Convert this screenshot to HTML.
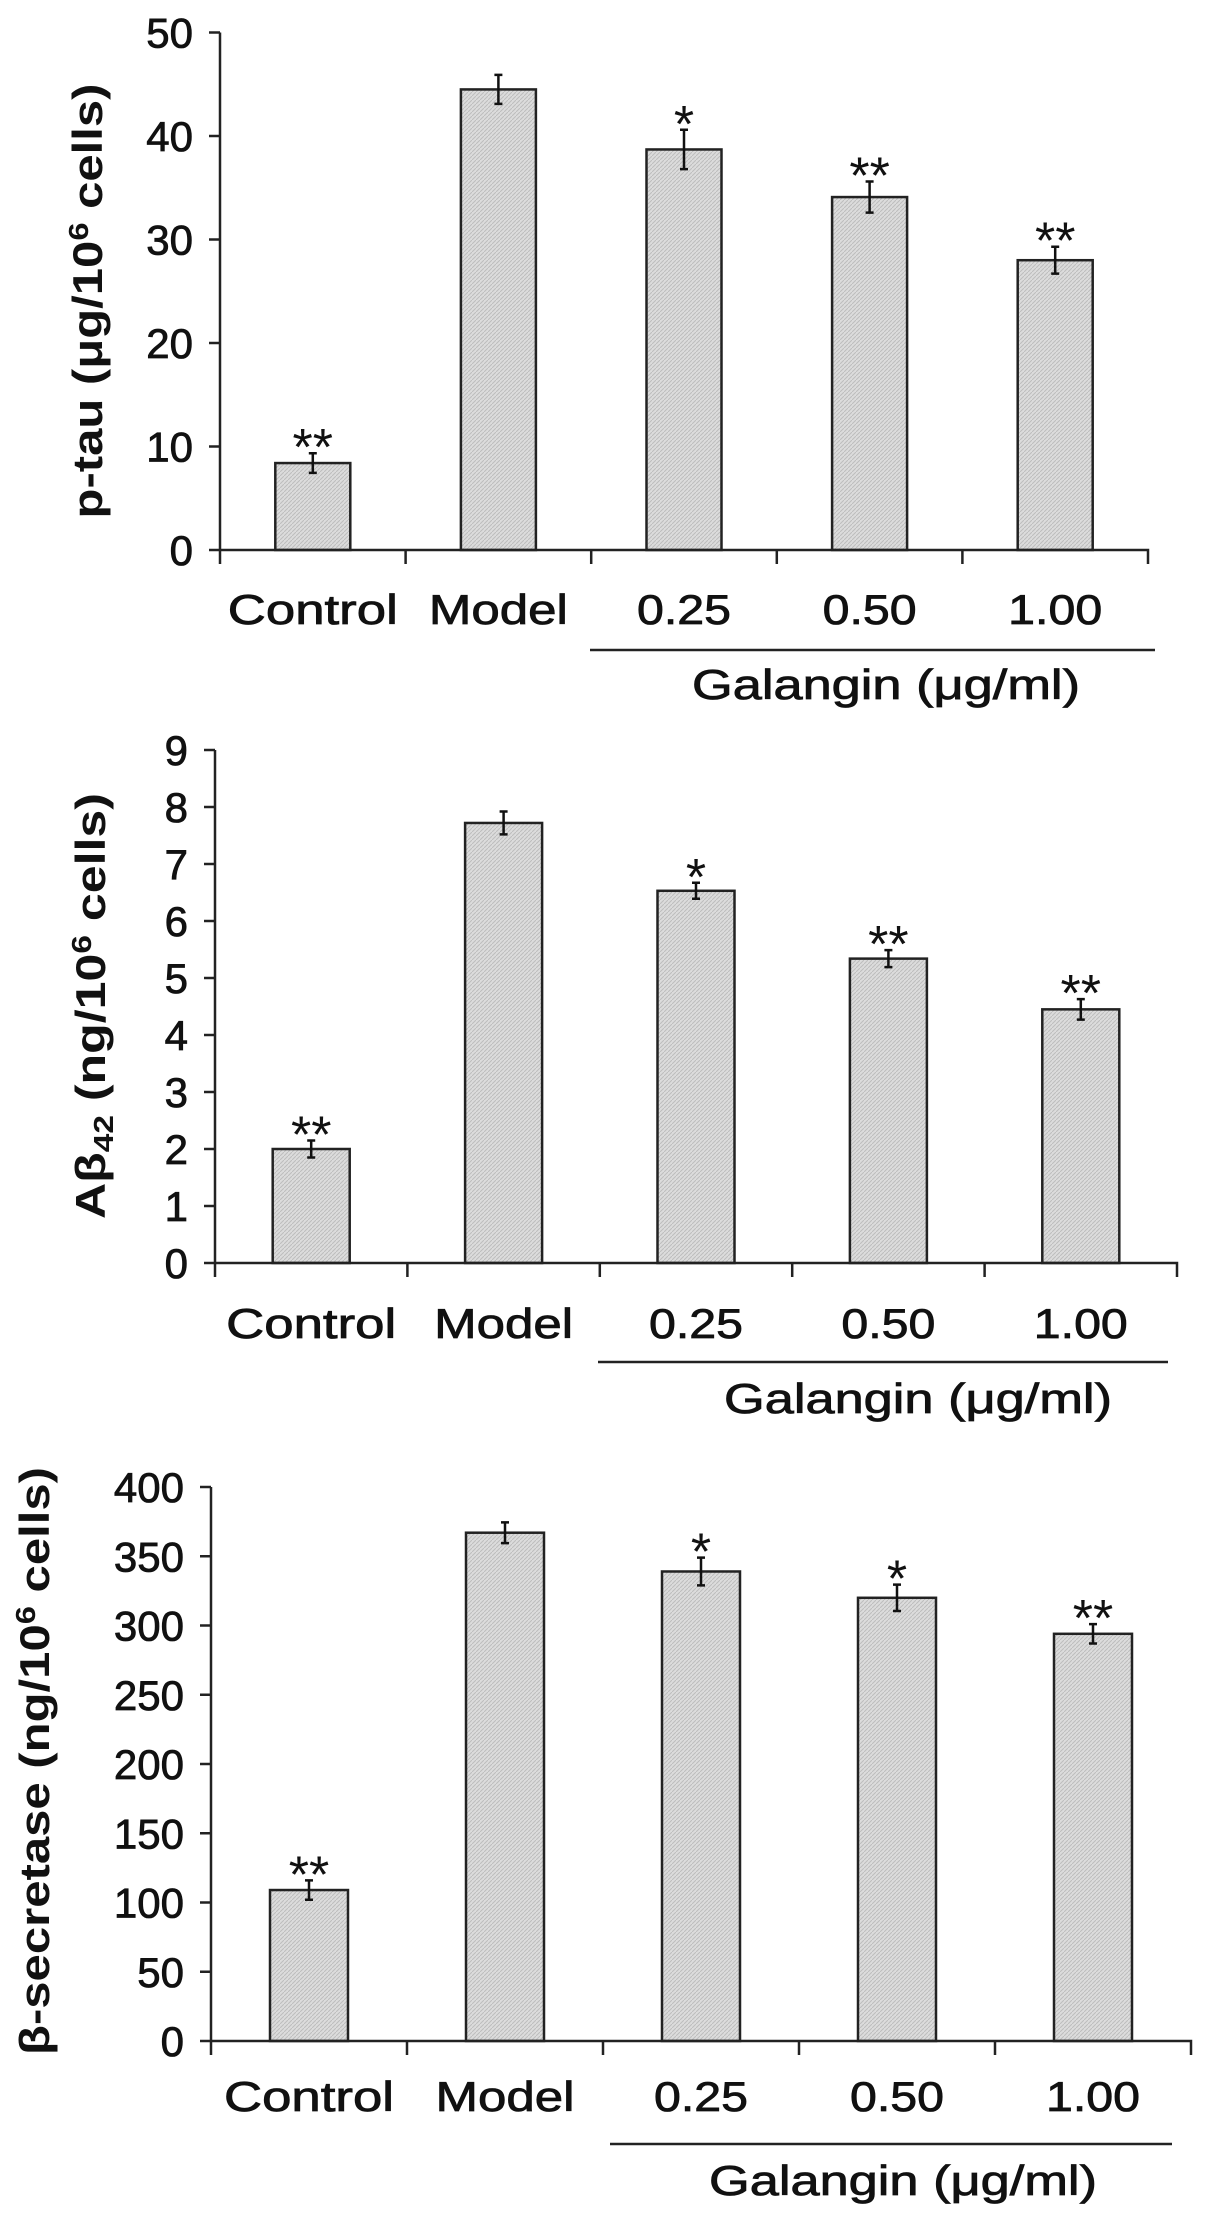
<!DOCTYPE html>
<html><head><meta charset="utf-8"><title>Galangin panels</title>
<style>
html,body{margin:0;padding:0;background:#fff;}
svg{display:block;font-family:"Liberation Sans",Arial,sans-serif;}
</style></head>
<body>
<svg id="chart" width="1205" height="2224" viewBox="0 0 1205 2224" xmlns="http://www.w3.org/2000/svg">
<defs>
<pattern id="hatch" width="4" height="4" patternUnits="userSpaceOnUse">
<rect width="4" height="4" fill="#dcdcdc"/>
<path d="M0,4 L4,0" stroke="#bdbdbd" stroke-width="1"/>
</pattern>
</defs>
</svg>
<script>
const categories = ["Control","Model","0.25","0.50","1.00"];
const tauValues = [8.4, 44.5, 38.7, 34.1, 28.0];
const tauErrors = [0.95, 1.4, 1.9, 1.5, 1.3];
const tauStars = ["**","","*","**","**"];
const tauTicks = [0,10,20,30,40,50];
const abValues = [2.0, 7.72, 6.53, 5.34, 4.45];
const abErrors = [0.15, 0.2, 0.14, 0.15, 0.18];
const abStars = ["**","","*","**","**"];
const abTicks = [0,1,2,3,4,5,6,7,8,9];
const bsValues = [109, 367, 339, 320, 294];
const bsErrors = [7, 7.5, 10, 9.5, 7];
const bsStars = ["**","","*","*","**"];
const bsTicks = [0,50,100,150,200,250,300,350,400];

const NS = "http://www.w3.org/2000/svg";
const svg = document.getElementById('chart');
function mk(tag, attrs, parent){
  const e = document.createElementNS(NS, tag);
  for (const k in attrs) e.setAttribute(k, attrs[k]);
  (parent||svg).appendChild(e);
  return e;
}
const labelWidths = [170,139,94,94,94];

function panel(cfg){
  const g = mk('g', {});
  
  
  const x0 = cfg.x0, x1 = cfg.x1, y0 = cfg.y0, yTop = cfg.yTop;
  const maxT = cfg.ticks[cfg.ticks.length-1];
  const yScale = v => y0 - (v / maxT) * (y0 - yTop);
  const n = categories.length;
  const cw = (x1 - x0) / n;
  const xCenter = i => x0 + cw * (i + 0.5);
  const bw = cfg.barW;
  cfg.values.forEach((v, i) => {
    const r = mk('rect', {x: xCenter(i) - bw/2, y: yScale(v), width: bw, height: y0 - yScale(v), fill: 'url(#hatch)', stroke: '#222', 'stroke-width': 2.5}, g);
    
    
    const e = cfg.errors[i];
    const eb = mk('path', {d: `M${xCenter(i)},${yScale(v+e)} V${yScale(v-e)} M${xCenter(i)-4},${yScale(v+e)} H${xCenter(i)+4} M${xCenter(i)-4},${yScale(v-e)} H${xCenter(i)+4}`, stroke: '#111', 'stroke-width': 2.5, fill: 'none'}, g);
    
    
    if (cfg.stars[i]) {
      const s = mk('text', {x: xCenter(i), y: yScale(v+e) + 12, 'text-anchor': 'middle', 'font-size': 52, fill: '#111'}, g);
      s.textContent = cfg.stars[i];
      
      
    }
  });
  const ax = mk('path', {d: `M${x0},${yTop} V${y0+14} M${x0},${y0} H${x1} V${y0+14}`, stroke: '#222', 'stroke-width': 2.5, fill: 'none'}, g);
  
  
  for (let i = 1; i < n; i++) {
    const t = mk('line', {x1: x0 + cw*i, x2: x0 + cw*i, y1: y0, y2: y0 + 14, stroke: '#222', 'stroke-width': 2.5}, g);
    
    
  }
  cfg.ticks.forEach(t => {
    const l = mk('line', {x1: x0 - 11, x2: x0, y1: yScale(t), y2: yScale(t), stroke: '#222', 'stroke-width': 2.5}, g);
    
    
    const tx = mk('text', {x: x0 - 27, y: yScale(t) + 15, 'text-anchor': 'end', 'font-size': 42, fill: '#111', stroke: '#111', 'stroke-width': 0.8}, g);
    tx.textContent = String(t);
    
    
  });
  categories.forEach((c, i) => {
    const tx = mk('text', {x: xCenter(i), y: cfg.labelY, 'text-anchor': 'middle', 'font-size': 42, fill: '#111', stroke: '#111', 'stroke-width': 0.8, textLength: labelWidths[i], lengthAdjust: 'spacingAndGlyphs'}, g);
    tx.textContent = c;
    
    
  });
  const gl = mk('line', {x1: cfg.gl[0], x2: cfg.gl[1], y1: cfg.gl[2], y2: cfg.gl[2], stroke: '#222', 'stroke-width': 2.5}, g);
  
  
  const gt = mk('text', {x: cfg.gt[0], y: cfg.gt[1], 'text-anchor': 'middle', 'font-size': 42, fill: '#111', stroke: '#111', 'stroke-width': 0.8, textLength: 388, lengthAdjust: 'spacingAndGlyphs'}, g);
  gt.textContent = 'Galangin (μg/ml)';
  
  
  const yt = mk('text', {x: 0, y: 0, transform: `translate(${cfg.yt[0]+14},${cfg.yt[1]}) rotate(-90)`, 'text-anchor': 'middle', 'font-size': 42, 'font-weight': 'bold', fill: '#111', textLength: cfg.yt[2], lengthAdjust: 'spacingAndGlyphs'}, g);
  yt.innerHTML = cfg.title;
  
  
}

panel({name: 'p-tau-panel', x0: 220, x1: 1148, y0: 550, yTop: 32.5, barW: 75, values: tauValues, errors: tauErrors, stars: tauStars, ticks: tauTicks,
  labelY: 624, gl: [590, 1155, 650], gt: [886, 699], yt: [88, 301, 435],
  title: 'p-tau (μg/10<tspan font-size="28" dy="-14">6</tspan><tspan dy="14"> cells)</tspan>'});
panel({name: 'abeta42-panel', x0: 215, x1: 1177, y0: 1263, yTop: 750, barW: 77, values: abValues, errors: abErrors, stars: abStars, ticks: abTicks,
  labelY: 1338, gl: [598, 1168, 1362], gt: [918, 1413], yt: [91, 1006, 426],
  title: 'Aβ<tspan font-size="28" dy="8">42</tspan><tspan dy="-8">  (ng/10</tspan><tspan font-size="28" dy="-14">6</tspan><tspan dy="14"> cells)</tspan>'});
panel({name: 'beta-secretase-panel', x0: 211, x1: 1191, y0: 2041, yTop: 1487, barW: 78, values: bsValues, errors: bsErrors, stars: bsStars, ticks: bsTicks,
  labelY: 2111, gl: [610, 1172, 2144], gt: [903, 2195], yt: [35, 1761, 588],
  title: 'β-secretase  (ng/10<tspan font-size="28" dy="-14">6</tspan><tspan dy="14"> cells)</tspan>'});
</script>
</body></html>
